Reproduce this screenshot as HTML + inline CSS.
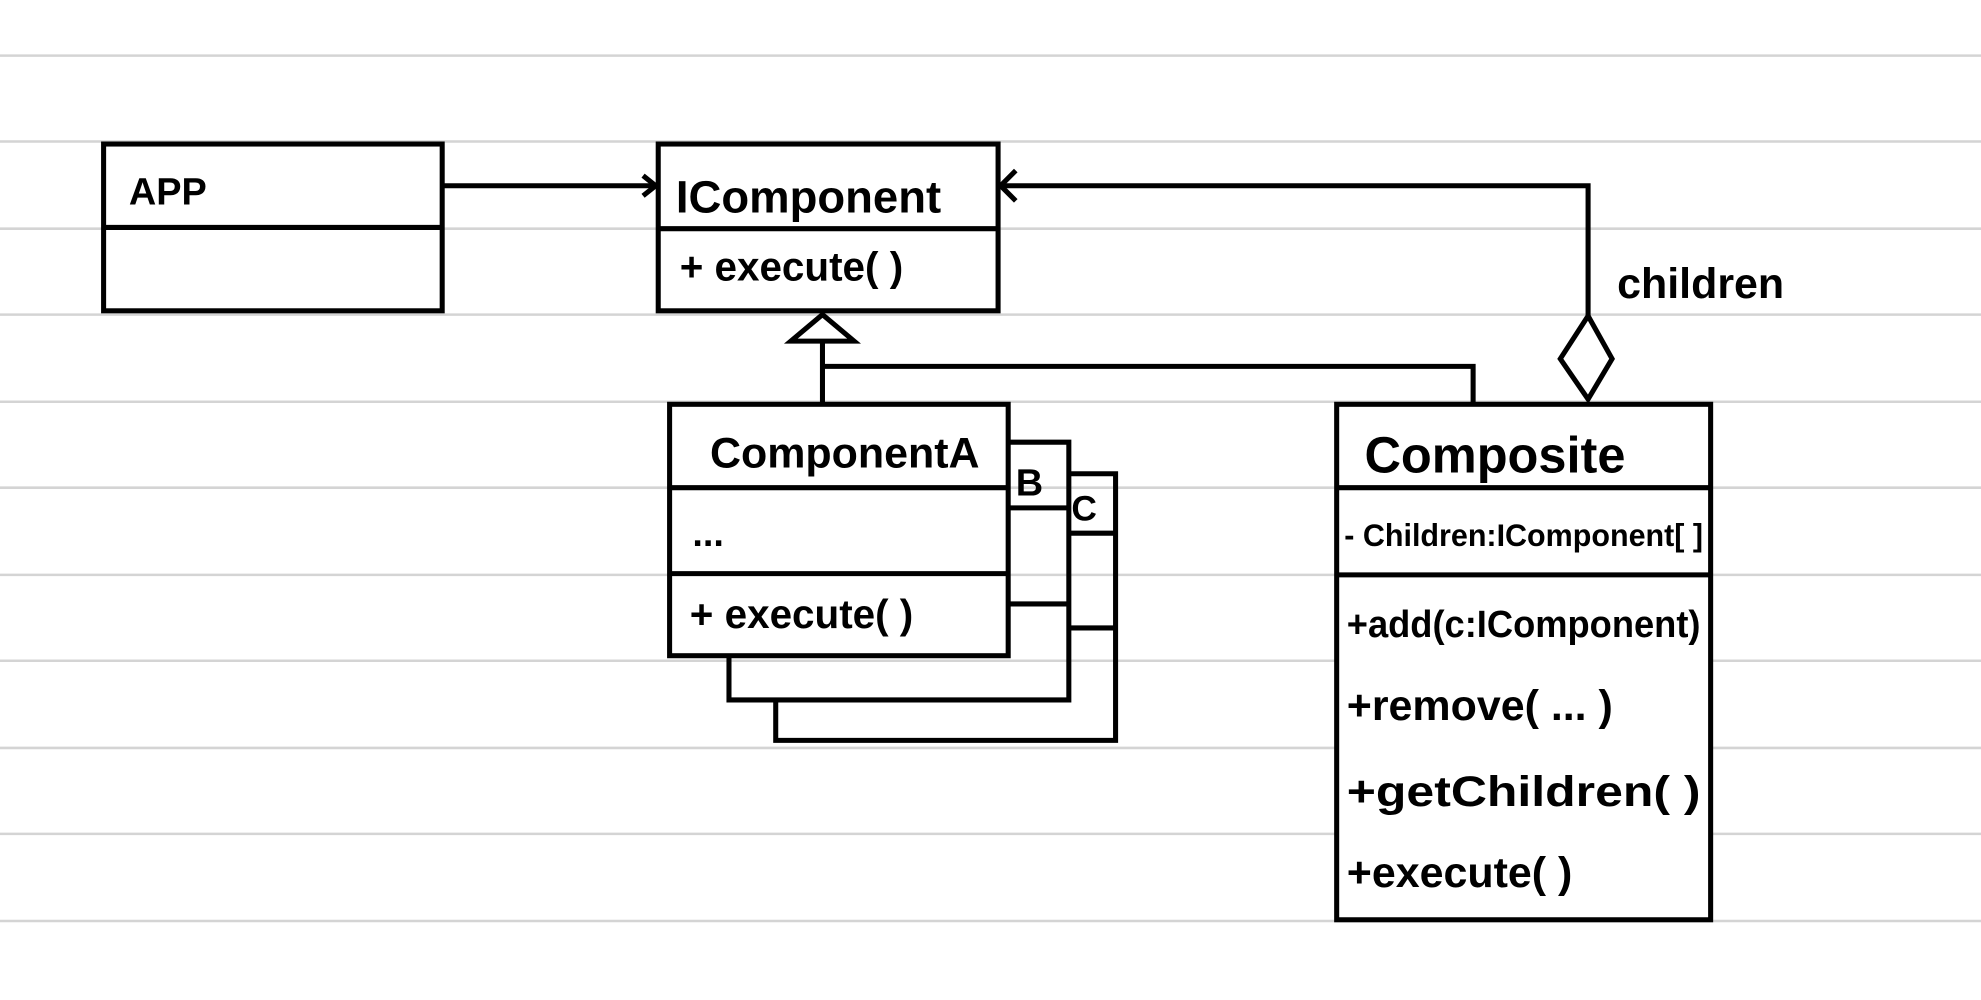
<!DOCTYPE html>
<html><head><meta charset="utf-8"><style>
html,body{margin:0;padding:0;background:#fff;}
svg{display:block;}
text{font-family:"Liberation Sans",sans-serif;font-weight:bold;fill:#000;}
</style></head><body>
<svg width="1981" height="1000" viewBox="0 0 1568 791.5" preserveAspectRatio="none" xmlns="http://www.w3.org/2000/svg">
<g stroke="#d4d4d4" stroke-width="2">
<line x1="0" y1="44" x2="1568" y2="44"/><line x1="0" y1="112" x2="1568" y2="112"/>
<line x1="0" y1="181" x2="1568" y2="181"/><line x1="0" y1="249" x2="1568" y2="249"/>
<line x1="0" y1="318" x2="1568" y2="318"/><line x1="0" y1="386" x2="1568" y2="386"/>
<line x1="0" y1="455" x2="1568" y2="455"/><line x1="0" y1="523" x2="1568" y2="523"/>
<line x1="0" y1="592" x2="1568" y2="592"/><line x1="0" y1="660" x2="1568" y2="660"/>
<line x1="0" y1="729" x2="1568" y2="729"/>
</g>
<g stroke="#000" stroke-width="4" fill="none" stroke-linejoin="miter">
<rect x="82" y="114" width="268" height="132" fill="#fff"/><line x1="82" y1="180" x2="350" y2="180"/>
<rect x="521" y="114" width="269" height="132" fill="#fff"/><line x1="521" y1="181" x2="790" y2="181"/>
<!-- C stack -->
<polyline points="846,375 883,375 883,586 614,586 614,554"/>
<line x1="846" y1="422" x2="883" y2="422"/><line x1="846" y1="497" x2="883" y2="497"/>
<!-- B stack -->
<polyline points="798,350 846,350 846,554 577,554 577,519"/>
<line x1="798" y1="402" x2="846" y2="402"/><line x1="798" y1="478" x2="846" y2="478"/>
<rect x="530" y="320" width="268" height="199" fill="#fff"/>
<line x1="530" y1="386" x2="798" y2="386"/><line x1="530" y1="454" x2="798" y2="454"/>
<rect x="1058" y="320" width="296" height="408" fill="#fff"/>
<line x1="1058" y1="386" x2="1354" y2="386"/><line x1="1058" y1="455" x2="1354" y2="455"/>
<!-- arrows -->
<line x1="350" y1="147" x2="519" y2="147"/>
<polyline points="509,139 519,147 509,155"/>
<polyline points="1257,250 1257,147 792,147"/>
<polyline points="804,135 792,147 804,159"/>
<polygon points="1257,250 1276,284 1257,316 1235,284" fill="#fff"/>
<polygon points="651,249 676,270 626,270" fill="#fff"/>
<polyline points="651,270 651,320"/>
<polyline points="651,290 1166,290 1166,320"/>
</g>
<text x="102" y="162" font-size="30">APP</text>
<text x="535" y="168" font-size="36">IComponent</text>
<text x="538" y="222" font-size="32">+ execute( )</text>
<text x="562" y="370" font-size="34">ComponentA</text>
<text x="548" y="432" font-size="30">...</text>
<text x="546" y="497" font-size="32">+ execute( )</text>
<text x="804" y="392" font-size="30">B</text>
<text x="848" y="412" font-size="28">C</text>
<text x="1080" y="374" font-size="40">Composite</text>
<text x="1064" y="432" font-size="25" textLength="284" lengthAdjust="spacingAndGlyphs">- Children:IComponent[ ]</text>
<text x="1066" y="504" font-size="30" textLength="280" lengthAdjust="spacingAndGlyphs">+add(c:IComponent)</text>
<text x="1066" y="570" font-size="34">+remove( ... )</text>
<text x="1066" y="638" font-size="34" textLength="280" lengthAdjust="spacingAndGlyphs">+getChildren( )</text>
<text x="1066" y="702" font-size="34">+execute( )</text>
<text x="1280" y="236" font-size="34">children</text>
</svg>
</body></html>
